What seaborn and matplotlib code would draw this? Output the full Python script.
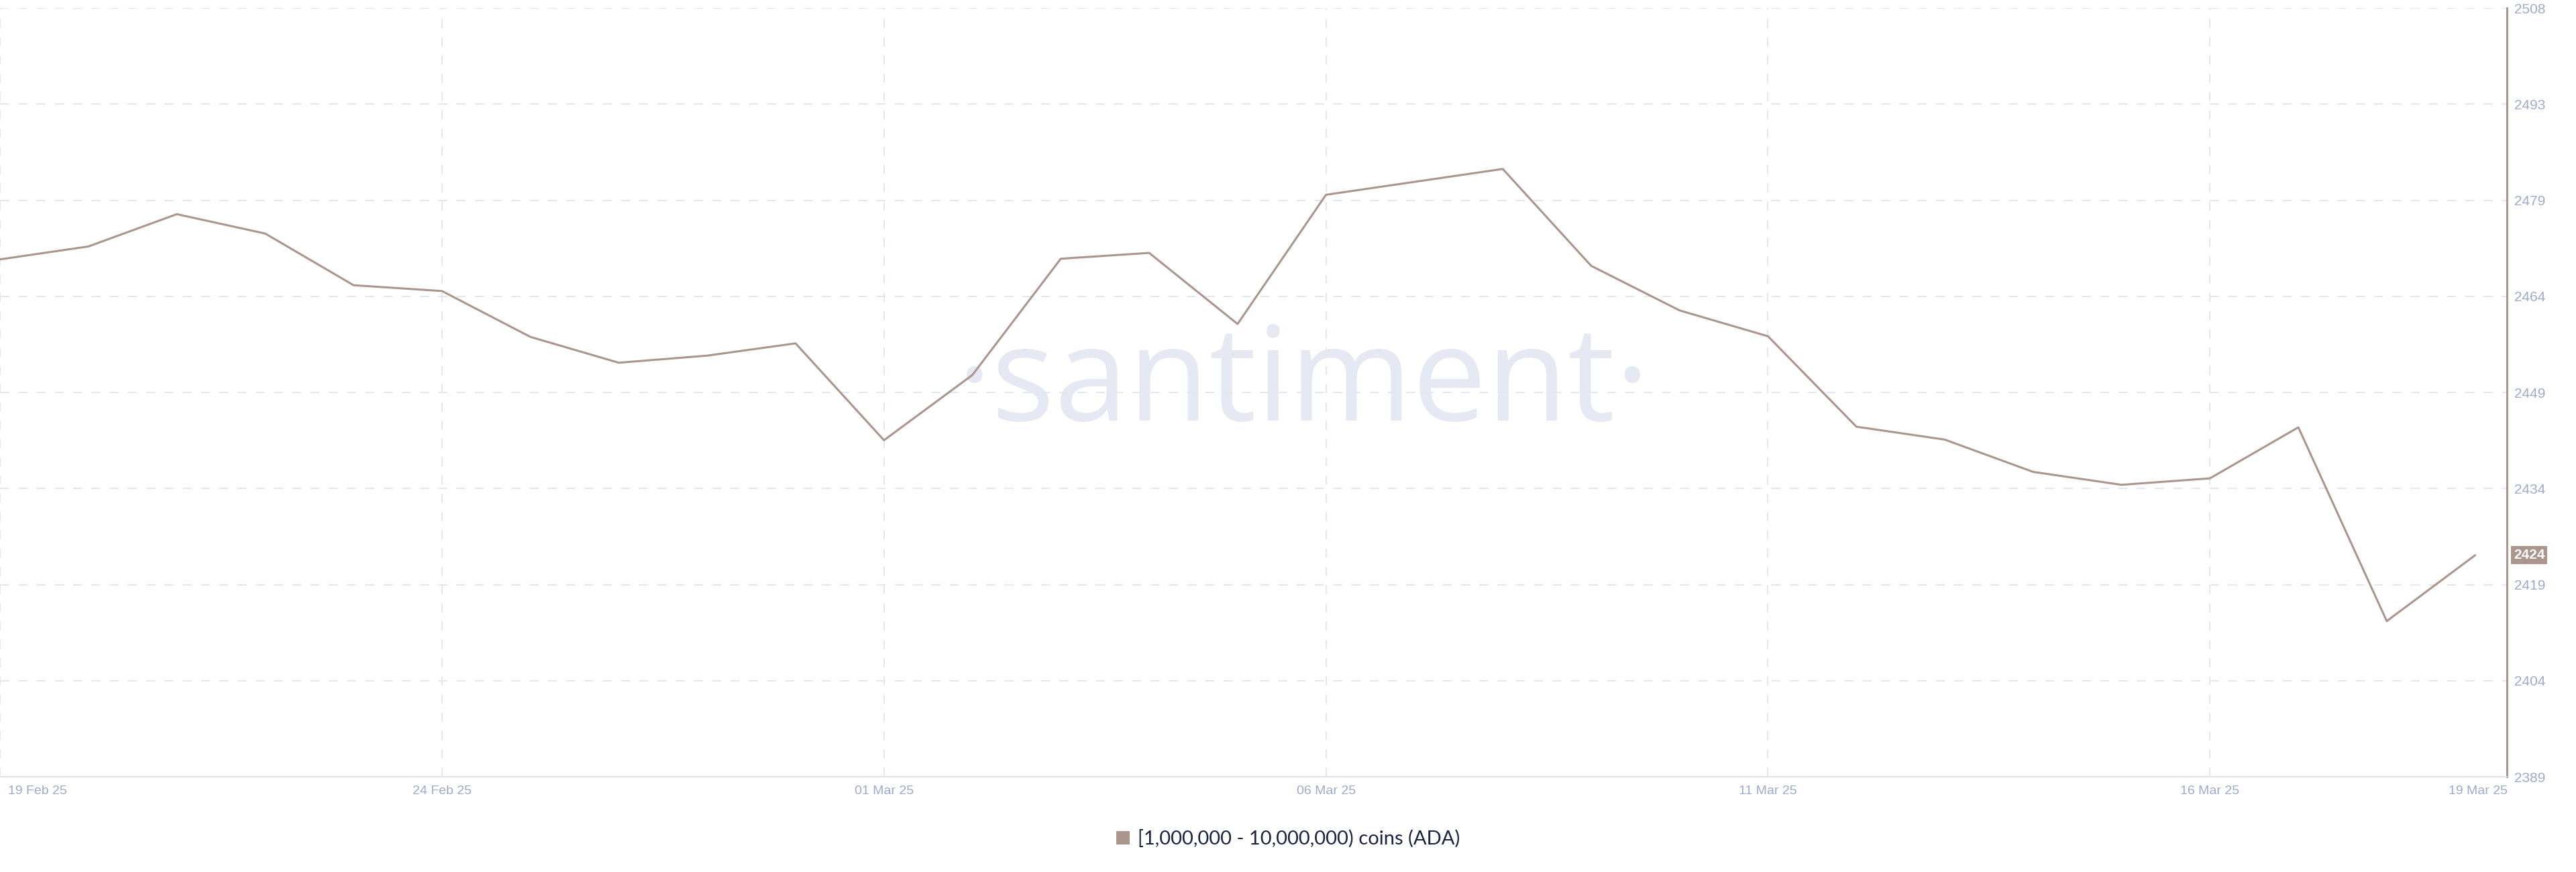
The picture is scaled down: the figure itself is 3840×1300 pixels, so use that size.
import matplotlib
matplotlib.use("Agg")
import matplotlib.pyplot as plt
import matplotlib.patches as mpatches
import matplotlib.transforms as mtransforms
import seaborn as sns
import pandas as pd
import numpy as np

# ---------------- data ----------------
dates = pd.date_range("2025-02-19", "2025-03-19", freq="D")
holders = [
    2469.4, 2471.4, 2476.4, 2473.4, 2465.4, 2464.5, 2457.4, 2453.4, 2454.5, 2456.4,
    2441.4, 2451.5, 2469.5, 2470.4, 2459.4, 2479.4, 2481.4, 2483.4, 2468.4, 2461.5,
    2457.5, 2443.5, 2441.5, 2436.5, 2434.5, 2435.5, 2443.4, 2413.4, 2423.6,
]
series_name = "[1,000,000 - 10,000,000) coins (ADA)"
x_tick_dates = ["2025-02-19", "2025-02-24", "2025-03-01", "2025-03-06",
                "2025-03-11", "2025-03-16", "2025-03-19"]
x_tick_labels = ["19 Feb 25", "24 Feb 25", "01 Mar 25", "06 Mar 25",
                 "11 Mar 25", "16 Mar 25", "19 Mar 25"]
y_min, y_max = 2389.3, 2508.3
y_tick_labels = ["2389", "2404", "2419", "2434", "2449", "2464", "2479", "2493", "2508"]
last_label = "2424"

df = pd.DataFrame({"date": dates, "value": holders})

# ---------------- style ----------------
sns.set_theme(style="white")
plt.rcParams["font.family"] = ["Liberation Sans", "DejaVu Sans"]

LINE = "#ab968e"
GRID = "#e4e7f1"
TICK = "#9eabca"

fig = plt.figure(figsize=(38.4, 13.0), dpi=100)
ax = fig.add_axes([0.0, 0.1092, 0.9732, 0.8815])

# watermark
ax.text(0.506, 0.518, "\u00b7santiment\u00b7", transform=fig.transFigure,
        ha="center", va="baseline", fontsize=142, color="#e6e9f3",
        family=["Open Sans", "DejaVu Sans"], zorder=0.2)

sns.lineplot(data=df, x="date", y="value", color=LINE, linewidth=2.2, ax=ax,
             zorder=3, legend=False)

# axes limits
x0 = dates[0]
ax.set_xlim(x0, x0 + pd.Timedelta(days=28.36))
ax.set_ylim(y_min, y_max)

# ticks
ax.set_xticks(pd.to_datetime(x_tick_dates))
ax.set_xticklabels(x_tick_labels)
ax.set_yticks(np.linspace(y_min, y_max, len(y_tick_labels)))
ax.set_yticklabels(y_tick_labels)
ax.yaxis.tick_right()
ax.tick_params(axis="x", length=0, labelsize=14, colors=TICK, pad=9)
ax.tick_params(axis="y", length=0, labelsize=15, colors=TICK, pad=8)
ax.set_xlabel("")
ax.set_ylabel("")

xl = ax.get_xticklabels()
xl[0].set_horizontalalignment("left")
xl[0].set_transform(xl[0].get_transform() + mtransforms.ScaledTranslation(12/100, 0, fig.dpi_scale_trans))
xl[-1].set_transform(xl[-1].get_transform() + mtransforms.ScaledTranslation(4/100, 0, fig.dpi_scale_trans))

# grid
ax.set_axisbelow(True)
ax.grid(True, axis="both", color=GRID, linewidth=1.4, linestyle=(0, (7, 7)))
xgl = ax.xaxis.get_gridlines()
xgl[-1].set_visible(False)
ygl = ax.yaxis.get_gridlines()
ygl[0].set_visible(False)

# spines
for s in ["left", "top"]:
    ax.spines[s].set_visible(False)
ax.spines["right"].set_color(LINE)
ax.spines["right"].set_linewidth(2.2)
ax.spines["bottom"].set_color("#dfe3ee")
ax.spines["bottom"].set_linewidth(1.5)

# last value label
ax.annotate(last_label, xy=(1.0, holders[-1]), xycoords=("axes fraction", "data"),
            xytext=(7, 0), textcoords="offset points", ha="left", va="center",
            fontsize=15, color="white", fontweight="bold",
            bbox=dict(boxstyle="square,pad=0.18", fc=LINE, ec="none"), zorder=5,
            annotation_clip=False)

# legend
handle = mpatches.Patch(facecolor=LINE, edgecolor="none", label=series_name)
leg = fig.legend(handles=[handle], loc="center", bbox_to_anchor=(0.5, 0.038),
                 frameon=False, handlelength=0.7, handleheight=0.7, handletextpad=0.4,
                 prop={"family": ["Lato", "DejaVu Sans"], "size": 21})
for t in leg.get_texts():
    t.set_color("#1c2340")

fig.savefig("out.png", dpi=100)
